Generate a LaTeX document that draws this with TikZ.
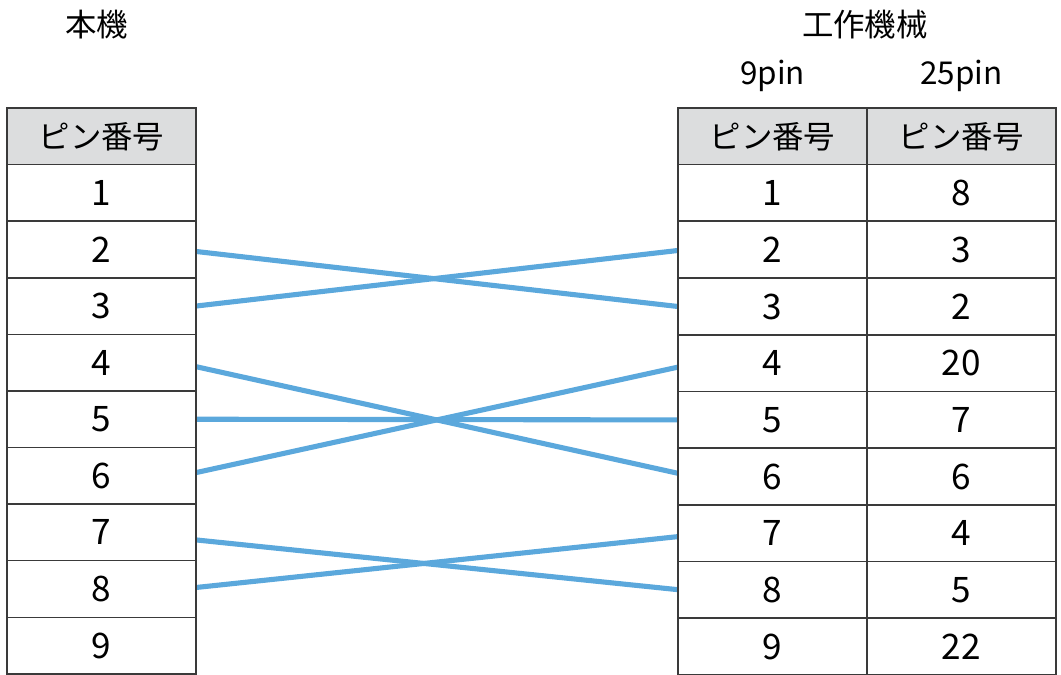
\documentclass[tikz,border=0pt]{standalone}
\usepackage{fontspec}
\setmainfont{Noto Sans CJK JP}
\usepackage{tikz}
\usetikzlibrary{matrix,positioning,backgrounds}

\definecolor{wireblue}{HTML}{5BA8DC}
\definecolor{rulegray}{HTML}{3A3A3A}
\definecolor{headgray}{HTML}{DCDDDE}

\tikzset{
  pincell/.style={draw=rulegray, line width=0.85pt, minimum width=3.78cm, minimum height=1.132cm,
    inner sep=0pt, outer sep=0pt, font=\fontsize{20pt}{22pt}\selectfont},
  pintable/.style={matrix of nodes, inner sep=0pt, outer sep=0pt, row sep=-0.85pt, column sep=-0.85pt,
    nodes={pincell}, row 1/.style={nodes={fill=headgray, font=\fontsize{17.9pt}{21pt}\selectfont}}},
  wire/.style={draw=wireblue, line width=2.9pt},
  title/.style={inner sep=0pt, font=\fontsize{17.9pt}{21pt}\selectfont}
}

\begin{document}
\begin{tikzpicture}[x=0.02cm, y=-0.02cm]
\useasboundingbox (0,0) rectangle (1061,675);
\matrix (honki) [pintable, anchor=north west] at (6.25,107.25) {
  ピン番号\\ 1\\ 2\\ 3\\ 4\\ 5\\ 6\\ 7\\ 8\\ 9\\
};
\matrix (kikai) [pintable, anchor=north west] at (677.25,107.25) {
  ピン番号 & ピン番号\\
  1 & 8\\ 2 & 3\\ 3 & 2\\ 4 & 20\\ 5 & 7\\ 6 & 6\\ 7 & 4\\ 8 & 5\\ 9 & 22\\
};
\node (honkiTitle) [title] at ([xshift=-0.1cm, yshift=1.65cm]honki.north) {本機};
\node (kikaiTitle) [title] at ([xshift=-0.04cm, yshift=1.65cm]kikai.north) {工作機械};
\node (pin9) [title] at ([yshift=0.64cm]kikai-1-1.north) {9pin};
\node (pin25) [title] at ([yshift=0.64cm]kikai-1-2.north) {25pin};
% wiring (row = pin + 1)
\begin{scope}[on background layer]
\foreach \a/\b/\da/\db in {3/4/-0.04/0, 4/3/0/-0.02, 5/7/-0.08/0.064, 6/6/0/0,
                           7/5/0.064/-0.08, 8/9/-0.15/0, 9/8/0.03/-0.07}
  \draw[wire] ([yshift=\da cm]honki-\a-1.east) -- ([yshift=\db cm]kikai-\b-1.west);
\end{scope}
\end{tikzpicture}
\end{document}
